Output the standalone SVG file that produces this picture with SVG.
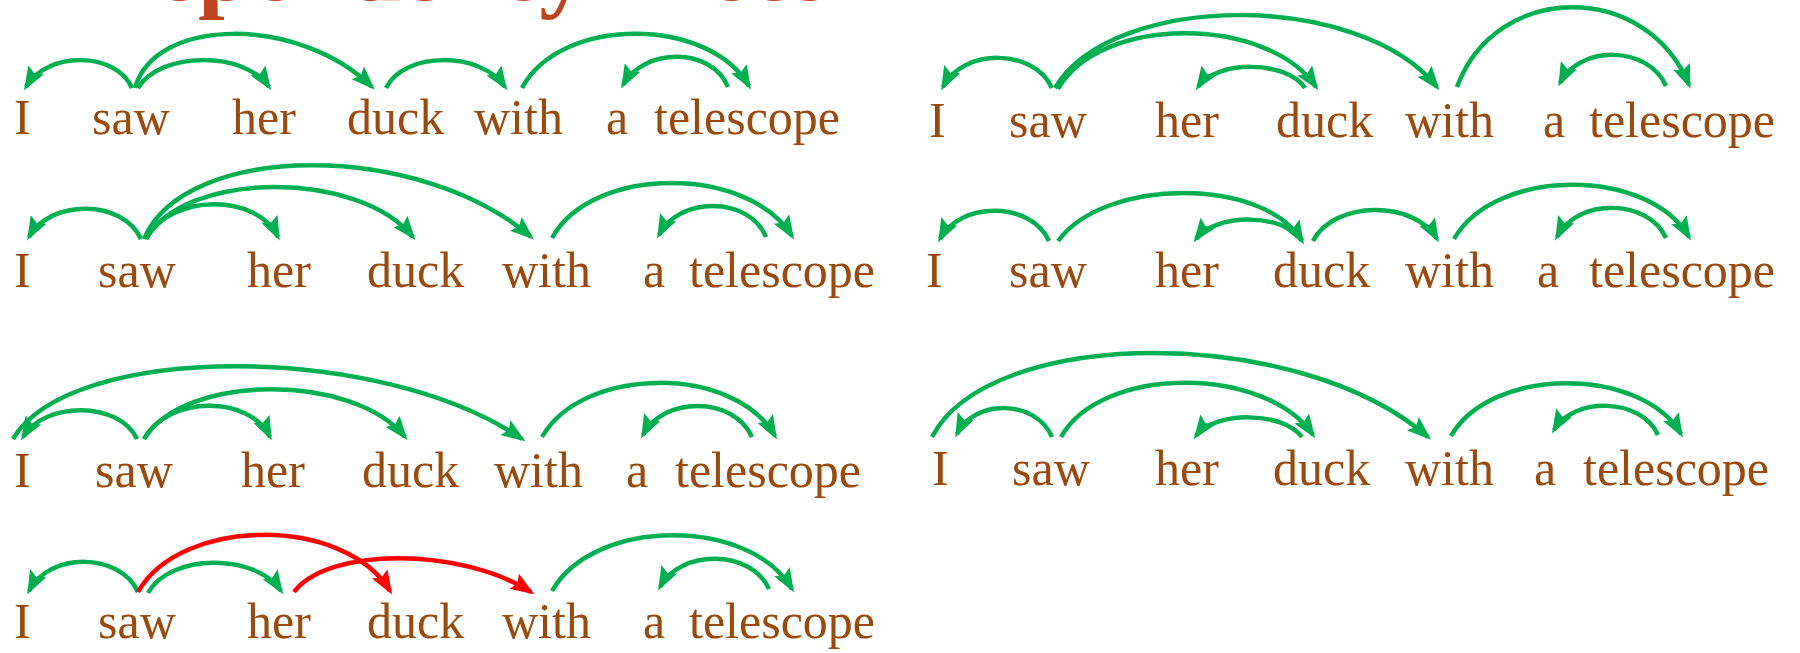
<svg xmlns="http://www.w3.org/2000/svg" width="1800" height="653" viewBox="0 0 1800 653">
<style>
.w{font-family:"Liberation Serif","Times New Roman",serif;font-size:50px;fill:#9B4A0E}
.t{font-family:"Liberation Serif","Times New Roman",serif;font-size:96px;font-weight:bold;fill:#C0431F}
.g{fill:none;stroke:#00B050;stroke-width:4.5;marker-end:url(#ag)}
.r{fill:none;stroke:#FF0000;stroke-width:4.5;marker-end:url(#ar)}
</style>
<defs>
<marker id="ag" viewBox="0 0 24 18" refX="20" refY="9" markerWidth="24" markerHeight="18" markerUnits="userSpaceOnUse" orient="auto"><path d="M0,0 L24,9 L0,18 L4,9 z" fill="#00B050"/></marker>
<marker id="ar" viewBox="0 0 24 18" refX="20" refY="9" markerWidth="24" markerHeight="18" markerUnits="userSpaceOnUse" orient="auto"><path d="M0,0 L24,9 L0,18 L4,9 z" fill="#FF0000"/></marker>
</defs>
<rect width="1800" height="653" fill="#fff"/>
<text class="t" x="86" y="0">Dependency Trees</text>

<g id="treeA">
<text class="w" x="14" y="134">I</text><text class="w" x="92" y="134">saw</text><text class="w" x="232" y="134">her</text><text class="w" x="347" y="134">duck</text><text class="w" x="474" y="134">with</text><text class="w" x="606" y="134">a</text><text class="w" x="654" y="134">telescope</text>
</g>
<g id="treeB">
<text class="w" x="929" y="137">I</text><text class="w" x="1009" y="137">saw</text><text class="w" x="1155" y="137">her</text><text class="w" x="1276" y="137">duck</text><text class="w" x="1405" y="137">with</text><text class="w" x="1543" y="137">a</text><text class="w" x="1589" y="137">telescope</text>
</g>
<g id="treeC">
<text class="w" x="14" y="287">I</text><text class="w" x="98" y="287">saw</text><text class="w" x="247" y="287">her</text><text class="w" x="367" y="287">duck</text><text class="w" x="502" y="287">with</text><text class="w" x="643" y="287">a</text><text class="w" x="689" y="287">telescope</text>
</g>
<g id="treeD">
<text class="w" x="926" y="287">I</text><text class="w" x="1009" y="287">saw</text><text class="w" x="1155" y="287">her</text><text class="w" x="1273" y="287">duck</text><text class="w" x="1405" y="287">with</text><text class="w" x="1537" y="287">a</text><text class="w" x="1589" y="287">telescope</text>
</g>
<g id="treeE">
<text class="w" x="14" y="487">I</text><text class="w" x="95" y="487">saw</text><text class="w" x="241" y="487">her</text><text class="w" x="362" y="487">duck</text><text class="w" x="494" y="487">with</text><text class="w" x="626" y="487">a</text><text class="w" x="675" y="487">telescope</text>
</g>
<g id="treeF">
<text class="w" x="932" y="485">I</text><text class="w" x="1012" y="485">saw</text><text class="w" x="1155" y="485">her</text><text class="w" x="1273" y="485">duck</text><text class="w" x="1405" y="485">with</text><text class="w" x="1534" y="485">a</text><text class="w" x="1583" y="485">telescope</text>
</g>
<g id="treeG">
<text class="w" x="14" y="638">I</text><text class="w" x="98" y="638">saw</text><text class="w" x="247" y="638">her</text><text class="w" x="367" y="638">duck</text><text class="w" x="502" y="638">with</text><text class="w" x="643" y="638">a</text><text class="w" x="689" y="638">telescope</text>
</g>

<g id="connectors">
<path class="g" d="M132,88 C116,51 47,51 26,87"/>
<path class="g" d="M138,88 C160,51 245,51 269,87"/>
<path class="g" d="M135,88 C155,16 300,16 372,87"/>
<path class="g" d="M386,88 C404,51 481,51 505,87"/>
<path class="g" d="M522,88 C560,16 708,16 749,86"/>
<path class="g" d="M728,87 C712,47 644,47 623,85"/>

<path class="g" d="M1052,88 C1034,48 963,48 943,87"/>
<path class="g" d="M1055,88 C1113,-9 1361,-9 1437,87"/>
<path class="g" d="M1058,89 C1099,15 1267,15 1316,87"/>
<path class="g" d="M1305,88 C1286,60 1216,60 1198,87"/>
<path class="g" d="M1457,87 C1496,-19 1647,-19 1689,85"/>
<path class="g" d="M1666,86 C1648,45 1579,45 1560,83"/>

<path class="g" d="M141,239 C123,199 50,199 29,237"/>
<path class="g" d="M146,239 C171,193 257,193 278,237"/>
<path class="g" d="M146,239 C185,170 359,170 413,237"/>
<path class="g" d="M144,239 C185,141 420,141 531,237"/>
<path class="g" d="M552,238 C592,165 748,165 792,236"/>
<path class="g" d="M766,237 C749,196 679,196 659,235"/>

<path class="g" d="M1049,241 C1031,201 960,201 940,239"/>
<path class="g" d="M1058,241 C1105,177 1264,177 1302,241"/>
<path class="g" d="M1302,240 C1284,213 1215,213 1196,239"/>
<path class="g" d="M1313,241 C1334,200 1415,200 1437,239"/>
<path class="g" d="M1454,239 C1495,167 1648,167 1689,237"/>
<path class="g" d="M1666,238 C1648,198 1577,198 1557,237"/>

<path class="g" d="M13,439 C70,342 380,342 522,439"/>
<path class="g" d="M137,439 C119,401 45,401 23,437"/>
<path class="g" d="M144,439 C168,395 250,395 270,437"/>
<path class="g" d="M144,439 C184,373 354,373 405,437"/>
<path class="g" d="M542,437 C583,365 735,365 775,436"/>
<path class="g" d="M752,437 C734,396 663,396 643,435"/>

<path class="g" d="M932,437 C990,325 1300,325 1428,437"/>
<path class="g" d="M1052,437 C1036,399 974,399 957,434"/>
<path class="g" d="M1061,437 C1101,365 1265,365 1313,435"/>
<path class="g" d="M1302,437 C1283,411 1214,411 1196,436"/>
<path class="g" d="M1451,436 C1491,366 1641,366 1681,434"/>
<path class="g" d="M1658,435 C1641,397 1573,397 1554,430"/>

<path class="g" d="M138,592 C120,552 49,552 29,591"/>
<path class="g" d="M148,593 C170,553 256,553 281,591"/>
<path class="r" d="M138,592 C181,516 345,516 390,591"/>
<path class="r" d="M294,592 C328,547 460,547 531,592"/>
<path class="g" d="M552,591 C594,517 750,517 792,589"/>
<path class="g" d="M769,589 C751,549 680,549 660,587"/>
</g>
</svg>
